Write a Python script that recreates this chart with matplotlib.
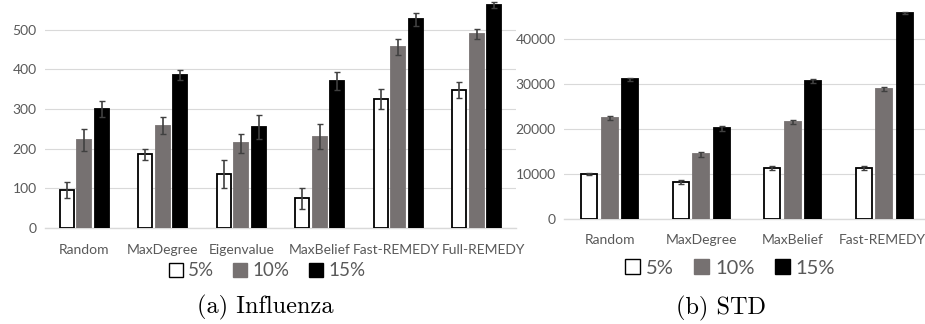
import matplotlib
matplotlib.use("Agg")
import matplotlib.pyplot as plt
from matplotlib.patches import Patch
import numpy as np

plt.rcParams['font.family'] = ['Lato', 'DejaVu Sans']

series = ["5%", "10%", "15%"]

inf_categories = ["Random", "MaxDegree", "Eigenvalue", "MaxBelief", "Fast-REMEDY", "Full-REMEDY"]
inf_5 = [95, 185, 135, 74, 325, 347]
inf_10 = [221, 258, 213, 230, 456, 489]
inf_15 = [300, 386, 254, 370, 526, 562]
inf_5_err = [21, 13, 35, 27, 25, 20]
inf_10_err = [27, 21, 24, 31, 21, 12]
inf_15_err = [20, 13, 31, 22, 16, 8]
inf_yticks = [0, 100, 200, 300, 400, 500]

std_categories = ["Random", "MaxDegree", "MaxBelief", "Fast-REMEDY"]
std_5 = [10050, 8350, 11390, 11390]
std_10 = [22450, 14420, 21600, 28980]
std_15 = [31130, 20190, 30760, 45840]
std_5_err = [250, 400, 400, 400]
std_10_err = [400, 500, 500, 500]
std_15_err = [350, 500, 500, 300]
std_yticks = [0, 10000, 20000, 30000, 40000]

face = ["white", "#767171", "black"]
edge = ["black", "#767171", "black"]
txt = "#595959"
grid = "#d9d9d9"

W, H = 925, 324
fig = plt.figure(figsize=(W / 100, H / 100), dpi=100)


def panel(rect, cats, vals, errs, yticks, ylim, width, step, fs, xpad, label_shift):
    ax = fig.add_axes(rect)
    x = np.arange(len(cats))
    for i, (v, e) in enumerate(zip(vals, errs)):
        ax.bar(x + (i - 1) * step, v, width, color=face[i], edgecolor=edge[i],
               linewidth=1.3, zorder=3)
        ax.errorbar(x + (i - 1) * step, v, yerr=e, fmt='none', ecolor="#404040",
                    elinewidth=1.2, capsize=2.2, capthick=1, zorder=4)
    ax.set_xlim(-0.5, len(cats) - 0.5)
    ax.set_ylim(0, ylim)
    ax.set_yticks(yticks)
    ax.set_xticks(x + np.array(label_shift))
    ax.set_xticklabels(cats)
    ax.yaxis.grid(True, color=grid, linewidth=0.8, zorder=0)
    for s in ["top", "right", "left"]:
        ax.spines[s].set_visible(False)
    ax.spines["bottom"].set_color(grid)
    ax.spines["bottom"].set_linewidth(1.0)
    ax.tick_params(axis='both', length=0, colors=txt, labelsize=fs)
    ax.tick_params(axis='x', pad=xpad)
    ax.tick_params(axis='y', pad=6)
    ax.set_axisbelow(True)
    return ax


panel([45 / W, 96.3 / H, 471 / W, 226.5 / H], inf_categories,
      [inf_5, inf_10, inf_15], [inf_5_err, inf_10_err, inf_15_err],
      inf_yticks, 572, 0.18, 0.225, 10, 12, [0, 0, 0, 0, -0.02, 0.09])
panel([564 / W, 104.7 / H, 366 / W, 219.2 / H], std_categories,
      [std_5, std_10, std_15], [std_5_err, std_10_err, std_15_err],
      std_yticks, 48700, 0.175, 0.222, 10, 10.5, [0, 0, 0, -0.02])

handles = [Patch(facecolor=face[i], edgecolor=edge[i], linewidth=1.0) for i in range(3)]
for cx, cy, fs in [(267 / W, 1 - 271 / H, 13.5), (730 / W, 1 - 268 / H, 14.5)]:
    fig.legend(handles, series, loc="center", bbox_to_anchor=(cx, cy), ncol=3,
               frameon=False, fontsize=fs, handlelength=0.75, handleheight=0.75,
               handletextpad=0.3, columnspacing=1.0, labelcolor=txt,
               borderaxespad=0, borderpad=0)

fig.text(265 / W, 1 - 307 / H, "(a) Influenza", family="cmr10", fontsize=17.5,
         ha="center", va="center")
fig.text(721 / W, 1 - 308 / H, "(b) STD", family="cmr10", fontsize=17.5,
         ha="center", va="center")

fig.savefig("out.png", dpi=100)
